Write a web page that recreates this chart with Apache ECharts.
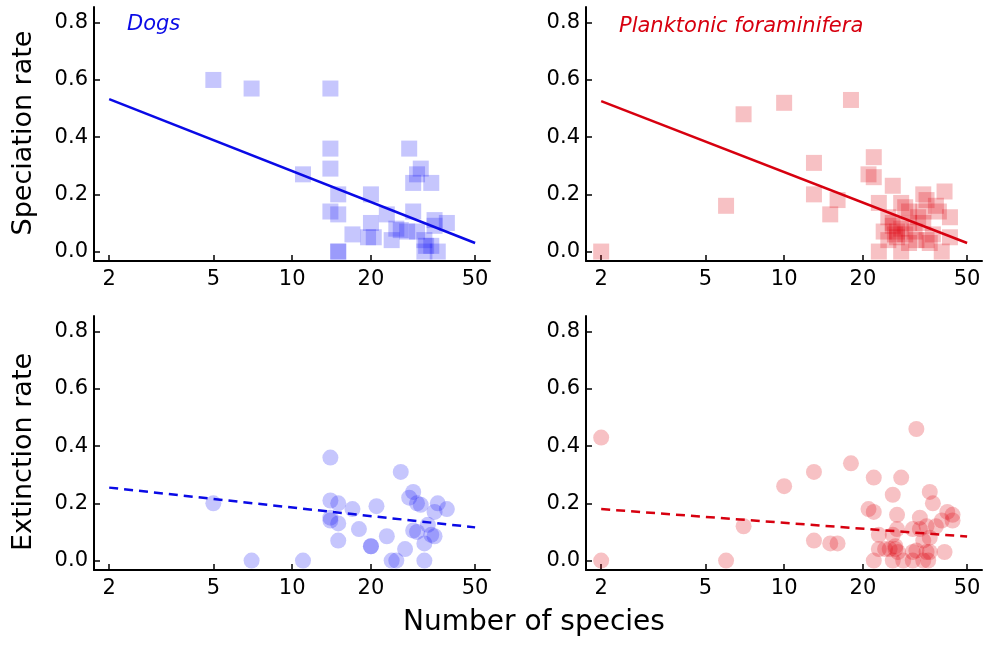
<!DOCTYPE html>
<html>
<head>
<meta charset="utf-8">
<script src="https://cdn.jsdelivr.net/npm/echarts@6/dist/echarts.min.js"></script>
<style>
  html, body { margin: 0; padding: 0; background: #fff; }
  #main { width: 988px; height: 646px; }
</style>
</head>
<body>
<div id="main"></div>
<script>
// tick values
const xTicks = [2, 5, 10, 20, 50];
const yTicks = [0, 0.2, 0.4, 0.6, 0.8];

// dogs, speciation rate  [number of species, rate]
const dogsSpec = [
  [5, 0.60], [7, 0.57], [14, 0.57], [14, 0.36], [14, 0.29], [11, 0.27],
  [28, 0.36], [31, 0.29], [30, 0.27], [29, 0.24], [34, 0.24], [15, 0.20],
  [20, 0.20], [14, 0.14], [15, 0.13], [23, 0.13], [29, 0.14], [35, 0.11],
  [39, 0.10], [20, 0.10], [17, 0.06], [19.5, 0.05], [20.5, 0.05], [24, 0.04],
  [25, 0.08], [26, 0.075], [27.5, 0.07], [30, 0.07], [32, 0.04], [32.5, 0.02],
  [32, 0.0], [36, 0.0], [15, 0.0], [15, 0.0], [34, 0.02], [35, 0.09]
];
// dogs, extinction rate
const dogsExt = [
  [5, 0.20], [7, 0.0], [11, 0.0], [14, 0.36], [14, 0.21], [15, 0.20],
  [14, 0.15], [14, 0.14], [15, 0.13], [15, 0.07], [17, 0.18], [18, 0.11],
  [21, 0.19], [20, 0.05], [20, 0.05], [23, 0.085], [26, 0.31], [29, 0.24],
  [28, 0.22], [30, 0.20], [31, 0.195], [36, 0.20], [35, 0.17], [39, 0.18],
  [29, 0.105], [30, 0.10], [33, 0.125], [34, 0.09], [35, 0.085], [32, 0.06],
  [27, 0.04], [24, 0.0], [25, 0.0], [32, 0.0]
];
// planktonic foraminifera, speciation rate
const forSpec = [
  [2, 0.0], [6, 0.16], [7, 0.48], [10, 0.52], [18, 0.53], [13, 0.31],
  [13, 0.20], [16, 0.18], [15, 0.13], [22, 0.33], [21, 0.27], [22, 0.26],
  [26, 0.23], [23, 0.17], [28, 0.17], [34, 0.20], [35, 0.18], [41, 0.21],
  [38, 0.16], [43, 0.12], [43, 0.05], [40, 0.0], [23, 0.0], [28, 0.0],
  [25, 0.12], [26, 0.10], [27, 0.07], [26.5, 0.06], [25, 0.04], [24, 0.07],
  [30, 0.10], [31.5, 0.07], [29, 0.06], [32.5, 0.12], [34, 0.10], [35, 0.04],
  [37, 0.06], [32, 0.04], [30, 0.03], [39, 0.14], [30, 0.14], [29, 0.155],
  [34, 0.14], [27, 0.05], [28, 0.08], [26, 0.09], [36, 0.03]
];
// planktonic foraminifera, extinction rate
const forExt = [
  [2, 0.43], [2, 0.0], [6, 0.0], [7, 0.12], [10, 0.26], [13, 0.31],
  [13, 0.07], [15, 0.06], [16, 0.06], [18, 0.34], [32, 0.46], [22, 0.29],
  [28, 0.29], [26, 0.23], [36, 0.24], [37, 0.20], [21, 0.18], [22, 0.17],
  [27, 0.16], [33, 0.15], [42, 0.17], [44, 0.16], [44, 0.14], [40, 0.14],
  [38, 0.12], [35, 0.12], [33, 0.11], [31, 0.11], [27, 0.11], [26, 0.09],
  [23, 0.09], [36, 0.08], [34, 0.07], [23, 0.04], [24.3, 0.04], [25.3, 0.04],
  [26.6, 0.04], [26.6, 0.05], [27.2, 0.03], [31, 0.03], [32, 0.035], [36, 0.03],
  [35, 0.03], [41, 0.03], [22, 0.0], [26, 0.0], [28.5, 0.0], [31, 0.0],
  [34, 0.0], [35.5, 0.0]
];
// fitted lines (ends at 2 and 50 species)
const fitX = [2, 50];
const dogsSpecFit = [0.533, 0.030];
const forSpecFit = [0.526, 0.030];
const dogsExtFit = [0.255, 0.116];
const forExtFit = [0.180, 0.084];

const BLUE = '#0a0ae6';
const RED = '#d7000f';
const BLUE_FILL = 'rgba(20,20,245,0.3)';
const RED_FILL = 'rgba(222,0,12,0.3)';
const FONT = 'DejaVu Sans';

const chart = echarts.init(document.getElementById('main'), null, { renderer: 'canvas' });

const grids = [
  { left: 94, top: 7, width: 396, height: 254 },
  { left: 586, top: 7, width: 396, height: 254 },
  { left: 94, top: 316, width: 396, height: 254 },
  { left: 586, top: 316, width: 396, height: 254 }
];

const makeX = (i) => ({
  type: 'log',
  gridIndex: i,
  logBase: 10,
  min: 1.75,
  max: 57,
  axisLine: { show: true, onZero: false, lineStyle: { color: '#000', width: 2 } },
  axisTick: { show: true, inside: true, length: 6, customValues: xTicks, lineStyle: { color: '#000', width: 1.5 } },
  axisLabel: { customValues: xTicks, fontFamily: FONT, fontSize: 21, color: '#000', margin: 8 },
  splitLine: { show: false },
  minorTick: { show: false }
});

const makeY = (i) => ({
  type: 'value',
  gridIndex: i,
  min: -0.033,
  max: 0.855,
  axisLine: { show: true, onZero: false, lineStyle: { color: '#000', width: 2 } },
  axisTick: { show: true, inside: true, length: 6, customValues: yTicks, lineStyle: { color: '#000', width: 1.5 } },
  axisLabel: {
    customValues: yTicks, fontFamily: FONT, fontSize: 21, color: '#000', margin: 6,
    formatter: (v) => Number(v).toFixed(1)
  },
  splitLine: { show: false }
});

const scatter = (i, data, symbol, fill) => ({
  type: 'scatter',
  xAxisIndex: i,
  yAxisIndex: i,
  data: data,
  symbol: symbol,
  symbolSize: 16,
  itemStyle: { color: fill },
  silent: true,
  z: 2
});

const fitLine = (i, ys, color, dashed) => ({
  type: 'line',
  xAxisIndex: i,
  yAxisIndex: i,
  data: fitX.map((x, k) => [x, ys[k]]),
  symbol: 'none',
  lineStyle: { color: color, width: 2.5, type: dashed ? [9, 6] : 'solid' },
  silent: true,
  z: 3
});

const option = {
  animation: false,
  backgroundColor: '#fff',
  title: [
    {
      text: 'Dogs', left: 122, top: 9,
      textStyle: { fontFamily: FONT, fontStyle: 'italic', fontWeight: 'normal', fontSize: 21, color: BLUE }
    },
    {
      text: 'Planktonic foraminifera', left: 614, top: 11,
      textStyle: { fontFamily: FONT, fontStyle: 'italic', fontWeight: 'normal', fontSize: 21, color: RED }
    }
  ],
  grid: grids,
  xAxis: [makeX(0), makeX(1), makeX(2), makeX(3)],
  yAxis: [makeY(0), makeY(1), makeY(2), makeY(3)],
  series: [
    scatter(0, dogsSpec, 'rect', BLUE_FILL),
    scatter(1, forSpec, 'rect', RED_FILL),
    scatter(2, dogsExt, 'circle', BLUE_FILL),
    scatter(3, forExt, 'circle', RED_FILL),
    fitLine(0, dogsSpecFit, BLUE, false),
    fitLine(1, forSpecFit, RED, false),
    fitLine(2, dogsExtFit, BLUE, true),
    fitLine(3, forExtFit, RED, true)
  ],
  graphic: [
    {
      type: 'text', x: 24, y: 133, rotation: Math.PI / 2,
      style: { text: 'Speciation rate', font: '27px "DejaVu Sans"', fill: '#000', align: 'center', verticalAlign: 'middle' }
    },
    {
      type: 'text', x: 24, y: 452, rotation: Math.PI / 2,
      style: { text: 'Extinction rate', font: '27px "DejaVu Sans"', fill: '#000', align: 'center', verticalAlign: 'middle' }
    },
    {
      type: 'text', x: 534, y: 623,
      style: { text: 'Number of species', font: '28px "DejaVu Sans"', fill: '#000', align: 'center', verticalAlign: 'middle' }
    }
  ]
};

chart.setOption(option);
</script>
</body>
</html>
